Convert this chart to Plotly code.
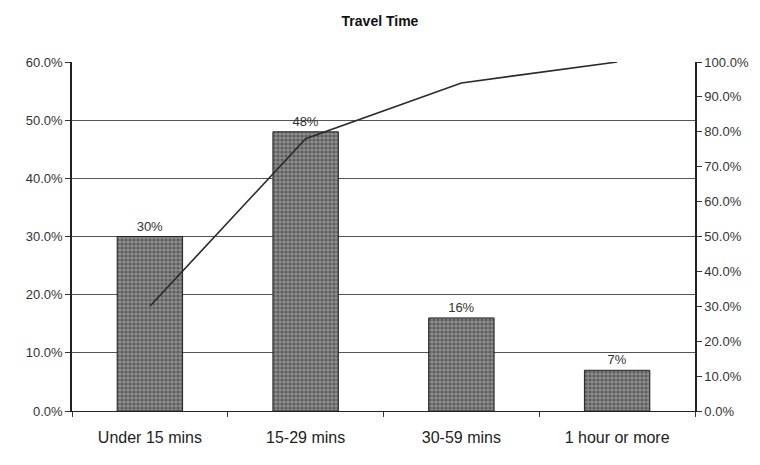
import plotly.graph_objects as go

# Travel time distribution (share of respondents) and running total
categories = ["Under 15 mins", "15-29 mins", "30-59 mins", "1 hour or more"]
share_pct = [30, 48, 16, 7]
cumulative_pct = [30, 78, 94, 100]

share = [v / 100 for v in share_pct]
cumulative = [v / 100 for v in cumulative_pct]
labels = [f"{v}%" for v in share_pct]

font_family = "Liberation Sans, Arial, sans-serif"

fig = go.Figure()

fig.add_trace(go.Bar(
    x=categories,
    y=share,
    text=labels,
    textposition="outside",
    textfont=dict(family=font_family, size=13, color="#333333"),
    cliponaxis=False,
    marker=dict(
        color="#7f7f7f",
        line=dict(color="#222222", width=1),
        pattern=dict(shape=".", fgcolor="#2e2e2e", bgcolor="#8c8c8c",
                     size=4, solidity=0.5),
    ),
    showlegend=False,
))

fig.add_trace(go.Scatter(
    x=categories,
    y=cumulative,
    yaxis="y2",
    mode="lines",
    line=dict(color="#2a2a2a", width=1.6),
    showlegend=False,
))

fig.update_layout(
    width=760,
    height=465,
    margin=dict(l=72, r=65, t=62, b=54),
    paper_bgcolor="white",
    plot_bgcolor="white",
    bargap=0.58,
    title=dict(
        text="<b>Travel Time</b>",
        x=0.5, xanchor="center",
        y=0.955, yanchor="middle",
        font=dict(family=font_family, size=14, color="#111111"),
    ),
    xaxis=dict(
        type="category",
        tickson="boundaries",
        ticks="outside",
        ticklen=5,
        tickcolor="#333333",
        showline=True,
        linecolor="#222222",
        linewidth=1,
        showgrid=False,
        ticklabelstandoff=12,
        tickfont=dict(family=font_family, size=16, color="#222222"),
    ),
    yaxis=dict(
        range=[0, 0.6],
        dtick=0.1,
        tickformat=".1%",
        ticks="outside",
        ticklen=5,
        tickcolor="#333333",
        showline=True,
        linecolor="#222222",
        linewidth=1.5,
        showgrid=True,
        gridcolor="#555555",
        gridwidth=1,
        zeroline=False,
        tickfont=dict(family=font_family, size=13, color="#333333"),
    ),
    yaxis2=dict(
        overlaying="y",
        side="right",
        range=[0, 1.0],
        dtick=0.1,
        tickformat=".1%",
        ticks="outside",
        ticklen=5,
        tickcolor="#333333",
        showline=True,
        linecolor="#222222",
        linewidth=1.5,
        showgrid=False,
        zeroline=False,
        tickfont=dict(family=font_family, size=13, color="#333333"),
    ),
)

fig.write_html("out.html")
